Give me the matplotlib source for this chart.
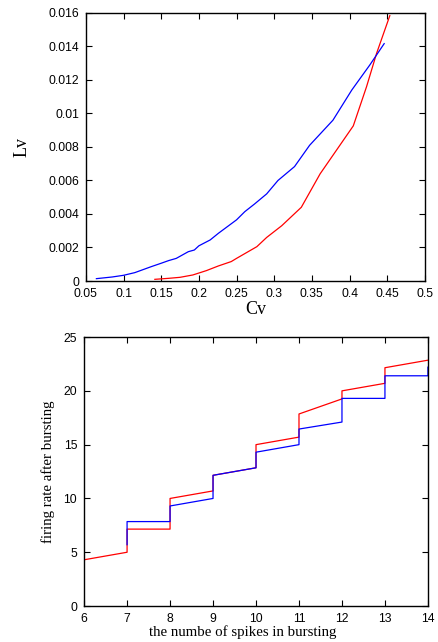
import numpy as np
import matplotlib
matplotlib.use("Agg")
import matplotlib.pyplot as plt

# top panel: Lv versus Cv
cv_blue = [0.064, 0.085, 0.100, 0.115, 0.137, 0.150, 0.160, 0.170, 0.178, 0.186, 0.194,
           0.200, 0.215, 0.226, 0.238, 0.250, 0.261, 0.274, 0.290, 0.305, 0.327,
           0.347, 0.378, 0.403, 0.427, 0.446]
lv_blue = [0.00014, 0.00024, 0.00034, 0.00050, 0.00086, 0.00106, 0.00122, 0.00135, 0.00155,
           0.00175, 0.00185, 0.0021, 0.00245, 0.00285, 0.00325, 0.00365, 0.00414,
           0.0046, 0.0052, 0.0060, 0.00683, 0.0081, 0.0096, 0.0114, 0.0129, 0.01417]
cv_red = [0.1416, 0.160, 0.175, 0.192, 0.210, 0.226, 0.243, 0.250, 0.277, 0.290, 0.310,
          0.336, 0.361, 0.405, 0.4226, 0.436, 0.4535]
lv_red = [0.0001, 0.00016, 0.00022, 0.00036, 0.00062, 0.0009, 0.00116, 0.00135, 0.00205,
          0.0026, 0.0033, 0.0044, 0.0064, 0.00926, 0.0116, 0.0136, 0.01584]

# bottom panel: firing rate after bursting
n_red = [6, 7, 7, 8, 8, 9, 9, 10, 10, 11, 11, 12, 12, 13, 13, 14]
rate_red = [4.3, 5.0, 7.15, 7.15, 10.0, 10.7, 12.15, 12.85, 15.0, 15.7, 17.85, 19.25,
            20.0, 20.7, 22.15, 22.85]
n_blue = [7, 7, 8, 8, 9, 9, 10, 10, 11, 11, 12, 12, 13, 13, 14, 14]
rate_blue = [5.7, 7.85, 7.85, 9.3, 10.0, 12.15, 12.85, 14.3, 15.0, 16.45, 17.1, 19.3,
             19.3, 21.4, 21.4, 22.2]

plt.rcParams['font.family'] = ['Liberation Sans', 'DejaVu Sans']
plt.rcParams['xtick.direction'] = 'in'
plt.rcParams['ytick.direction'] = 'in'
plt.rcParams['xtick.top'] = True
plt.rcParams['ytick.right'] = True
plt.rcParams['xtick.major.size'] = 4.5
plt.rcParams['ytick.major.size'] = 4.5
plt.rcParams['axes.linewidth'] = 1.0

fig = plt.figure(figsize=(4.38, 6.42), dpi=100)
serif = ['Liberation Serif', 'DejaVu Serif']

ax1 = fig.add_axes([0.196, 0.5623, 0.774, 0.4175])
ax1.plot(cv_red, lv_red, color='red', lw=0.9)
ax1.plot(cv_blue, lv_blue, color='blue', lw=0.9)
ax1.set_xlim(0.05, 0.5)
ax1.set_ylim(0, 0.016)
ax1.set_xticks(np.arange(0.05, 0.501, 0.05))
ax1.set_xticklabels(['0.05', '0.1', '0.15', '0.2', '0.25', '0.3', '0.35', '0.4', '0.45', '0.5'])
ax1.set_yticks(np.arange(0, 0.0161, 0.002))
ax1.set_yticklabels(['0', '0.002', '0.004', '0.006', '0.008', '0.01', '0.012', '0.014', '0.016'])
ax1.tick_params(labelsize=8.7, pad=5)
ax1.set_xlabel('Cv', family=serif, fontsize=13, labelpad=1)
ax1.set_ylabel('Lv', family=serif, fontsize=13, labelpad=13)

ax2 = fig.add_axes([0.192, 0.056, 0.785, 0.419])
ax2.plot(n_red, rate_red, color='red', lw=0.9)
ax2.plot(n_blue, rate_blue, color='blue', lw=0.9)
ax2.set_xlim(6, 14)
ax2.set_ylim(0, 25)
ax2.set_xticks(range(6, 15))
ax2.set_yticks(range(0, 26, 5))
ax2.tick_params(labelsize=8.7, pad=5)
ax2.set_xlabel('the numbe of spikes in bursting', family=serif, fontsize=10.7)
ax2.xaxis.set_label_coords(0.46, -0.072, transform=ax2.transAxes)
ax2.xaxis.label.set_va('top')
ax2.set_ylabel('firing rate after bursting', family=serif, fontsize=10.7, labelpad=6)

fig.savefig('out.png', dpi=100)
